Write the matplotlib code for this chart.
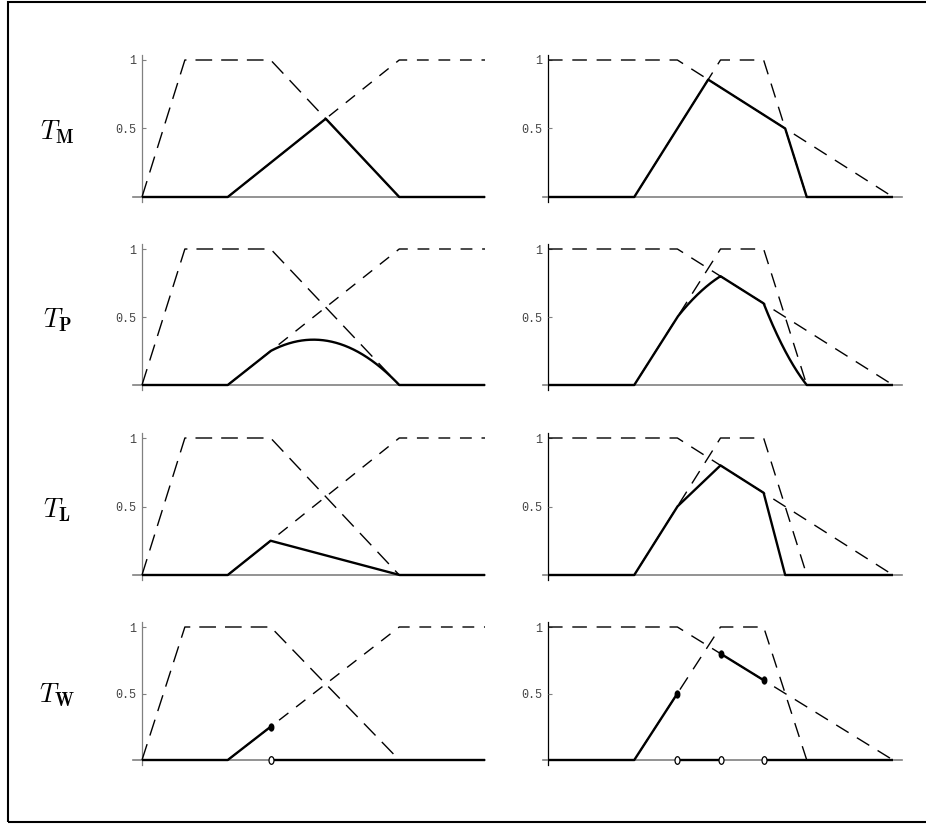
import numpy as np
import matplotlib.pyplot as plt
from matplotlib.path import Path
from matplotlib.patches import Rectangle
from matplotlib.transforms import Affine2D

plt.rcParams['mathtext.fontset'] = 'cm'
plt.rcParams['lines.scale_dashes'] = False

W, H = 926, 824

# membership functions (breakpoints)
left_a_x = [0, 1, 3, 6, 8]
left_a_y = [0, 1, 1, 0, 0]
left_b_x = [0, 2, 6, 8]
left_b_y = [0, 0, 1, 1]
right_c_x = [0, 3, 8]
right_c_y = [1, 1, 0]
right_d_x = [0, 2, 4, 5, 6, 8]
right_d_y = [0, 0, 1, 1, 0, 0]

# points where the drastic t-norm jumps
jumps_left = [3]
jumps_right = [3, 4, 5]

row_names = ['M', 'P', 'L', 'W']
ytick_vals = [0.5, 1]
ytick_labels = ['0.5', '1']

# pixel layout of the 4x2 panels
row_base = [197, 385, 575, 760]   # pixel of y = 0
row_top = [60, 249, 438, 627]     # pixel of y = 1
col_x0 = [142, 548]               # pixel of x = 0
col_x8 = [485, 893]               # pixel of x = 8
xlim = (-0.4, 8.4)
ylim = (-0.1, 1.1)


def tnorm(name, a, b):
    if name == 'M':
        return np.minimum(a, b)
    if name == 'P':
        return a * b
    if name == 'L':
        return np.maximum(0, a + b - 1)
    hi = np.maximum(a, b) >= 1 - 1e-9
    return np.where(hi, np.minimum(a, b), 0.0)


def break_jumps(x, y):
    idx = np.where(np.abs(np.diff(y)) > 0.02)[0] + 1
    return np.insert(x, idx, np.nan), np.insert(y, idx, np.nan)


ell = Path.unit_circle().transformed(Affine2D().scale(0.65, 1.0))

fig = plt.figure(figsize=(W / 100, H / 100), dpi=100)
fig.patches.append(Rectangle((8 / W, 2 / H), 1.2, 820 / H, transform=fig.transFigure,
                             fill=False, edgecolor='black', linewidth=1.5))

sets = [(left_a_x, left_a_y, left_b_x, left_b_y, jumps_left),
        (right_c_x, right_c_y, right_d_x, right_d_y, jumps_right)]
dash_a = [(0, (12, 6.5)), (0, (10.5, 7))]
dash_b = [(0, (8.5, 7)), (0, (10.5, 7))]
xaxis_bounds = [(-0.21, 8.0), (-0.12, 8.2)]
yaxis_color = ['#808080', 'black']

grid = np.union1d(np.linspace(0, 8, 1601), [0, 1, 2, 3, 4, 5, 6, 8])

for r, name in enumerate(row_names):
    sy = row_base[r] - row_top[r]
    for c in range(2):
        sx = (col_x8[c] - col_x0[c]) / 8
        left = (col_x0[c] + xlim[0] * sx) / W
        width = (xlim[1] - xlim[0]) * sx / W
        bottom = 1 - (row_base[r] - ylim[0] * sy) / H
        height = (ylim[1] - ylim[0]) * sy / H
        ax = fig.add_axes([left, bottom, width, height])
        ax.set_xlim(*xlim)
        ax.set_ylim(*ylim)
        ax.patch.set_visible(False)

        ax_x, ax_y, bx, by, jumps = sets[c]
        a = np.interp(grid, ax_x, ax_y)
        b = np.interp(grid, bx, by)
        ax.plot(ax_x, ax_y, color='black', lw=1.0, linestyle=dash_a[c])
        ax.plot(bx, by, color='black', lw=1.0, linestyle=dash_b[c])

        t = tnorm(name, a, b)
        px, py = break_jumps(grid, t)
        ax.plot(px, py, color='black', lw=1.7, solid_capstyle='butt')

        if name == 'W':
            jx = np.array(jumps, dtype=float)
            jy = tnorm(name, np.interp(jx, ax_x, ax_y), np.interp(jx, bx, by))
            ax.plot(jx, jy, linestyle='none', marker=ell, markersize=5,
                    color='black')
            ax.plot(jx, np.zeros_like(jx), linestyle='none', marker=ell,
                    markersize=5.5, markerfacecolor='white',
                    markeredgecolor='black', markeredgewidth=0.9)

        for s in ['top', 'right']:
            ax.spines[s].set_visible(False)
        ax.spines['left'].set_position(('data', 0))
        ax.spines['bottom'].set_position(('data', 0))
        ax.spines['left'].set_bounds(-0.04, 1.04)
        ax.spines['bottom'].set_bounds(*xaxis_bounds[c])
        ax.spines['bottom'].set_color('#808080')
        ax.spines['bottom'].set_linewidth(1.2)
        ax.spines['left'].set_color(yaxis_color[c])
        ax.spines['left'].set_linewidth(0.9)
        for s in ax.spines.values():
            s.set_zorder(0.5)
        ax.set_xticks([])
        ax.set_yticks(ytick_vals)
        ax.set_yticklabels(ytick_labels, family='Liberation Mono', fontsize=8.5,
                           color='#444444')
        ax.tick_params(axis='y', direction='in', length=3, width=0.8,
                       color='#808080', pad=4)

    fig.text(57 / W, 1 - (row_base[r] - 65) / H, r'$T_{\mathbf{%s}}$' % name,
             fontsize=19, ha='center', va='center')

fig.savefig('out.png', dpi=100)
